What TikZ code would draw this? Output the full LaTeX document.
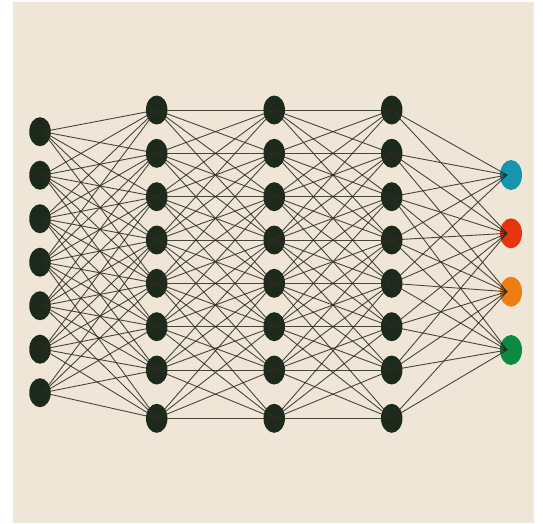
\documentclass[tikz,border=0pt]{standalone}
\usetikzlibrary{shapes.geometric}
\definecolor{paper}{HTML}{F0E6D8}
\definecolor{neuron}{HTML}{1B2A1B}
\definecolor{wire}{HTML}{2A2A22}
\definecolor{outblue}{HTML}{1595B0}
\definecolor{outred}{HTML}{E8340C}
\definecolor{outorange}{HTML}{EF7E12}
\definecolor{outgreen}{HTML}{0D8A42}
\tikzset{
  neuronnode/.style={ellipse, fill=neuron, draw=none, minimum width=21.5pt, minimum height=29pt, inner sep=0pt},
  outnode/.style={ellipse, draw=none, minimum width=22pt, minimum height=30pt, inner sep=0pt},
  wireline/.style={draw=wire, line width=0.9pt, opacity=0.85}
}
\begin{document}
\begin{tikzpicture}[x=1pt,y=-1pt]
\useasboundingbox (0,0) rectangle (543,523);
\fill[white] (0,0) rectangle (543,523);
\fill[paper] (13,2) rectangle (534,523);
% input layer
\foreach \i in {1,...,7} {
  \node[neuronnode] (in\i) at (40,{131.7+43.5*(\i-1)}) {};
}
% hidden layers
\foreach \l/\x in {1/156.7,2/274.2,3/391.7} {
  \foreach \i/\y in {1/110,2/153.3,3/196.7,4/240,5/283.3,6/326.7,7/370,8/418.3} {
    \node[neuronnode] (h\l-\i) at (\x,\y) {};
  }
}
% output layer
\node[outnode, fill=outblue]   (out1) at (511,175) {};
\node[outnode, fill=outred]    (out2) at (511,233.3) {};
\node[outnode, fill=outorange] (out3) at (511,291.7) {};
\node[outnode, fill=outgreen]  (out4) at (511,350) {};
% input -> hidden 1 (j from i-3 to i+4)
\foreach \i in {1,...,7} {
  \foreach \j in {1,...,8} {
    \pgfmathtruncatemacro{\ok}{and(\j>=\i-3,\j<=\i+4)}
    \ifnum\ok=1
      \draw[wireline] ([xshift=3pt]in\i.center) -- (h1-\j.center);
    \fi
  }
}
% hidden -> hidden (|i-j| <= 3)
\foreach \i in {1,...,8} {
  \foreach \j in {1,...,8} {
    \pgfmathtruncatemacro{\ok}{abs(\i-\j)<=3}
    \ifnum\ok=1
      \draw[wireline] (h1-\i.center) -- (h2-\j.center);
      \draw[wireline] (h2-\i.center) -- (h3-\j.center);
    \fi
  }
}
% hidden 3 -> output
\foreach \i/\lo/\hi in {1/1/5,2/1/7,3/2/8,4/3/8} {
  \foreach \j in {\lo,...,\hi} {
    \draw[wireline] (h3-\j.center) -- ([xshift=-4pt]out\i.center);
  }
}
\end{tikzpicture}
\end{document}
